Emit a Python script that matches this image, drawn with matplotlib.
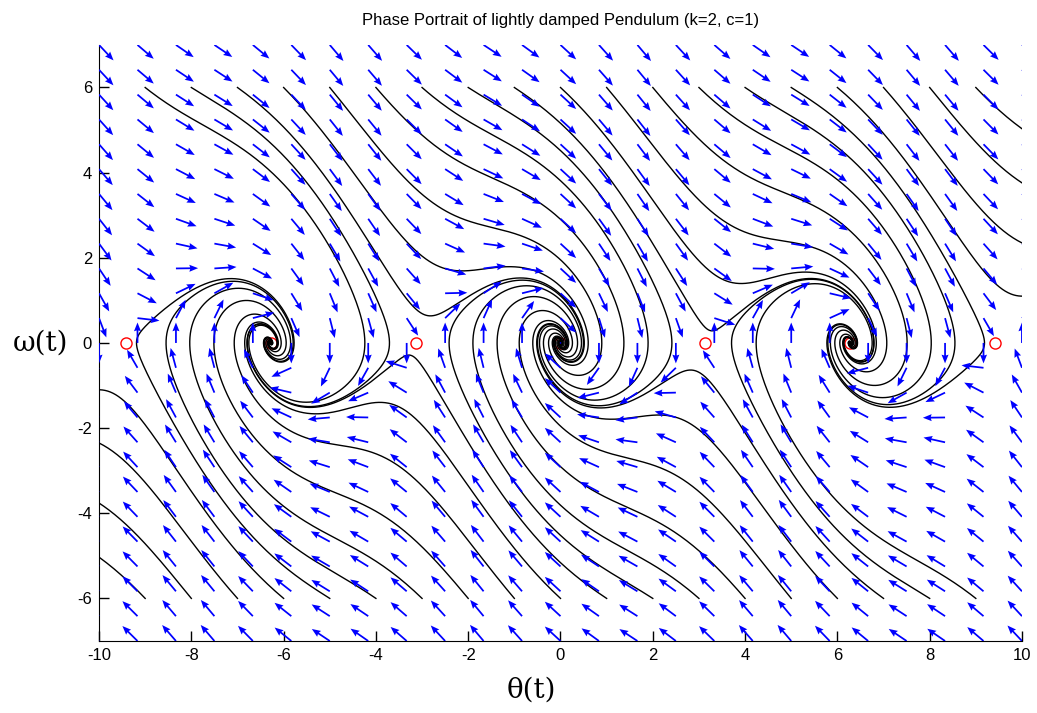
import numpy as np
import matplotlib
matplotlib.use("Agg")
import matplotlib.pyplot as plt

plt.rcParams['axes.unicode_minus'] = False

# pendulum parameters (from the title)
k = 2
c = 1

# direction field grid
theta_grid = np.linspace(-10, 10, 25)
omega_grid = np.linspace(-7, 7, 25)

# start points of the trajectories
theta_starts = list(range(-9, 10))
omega_starts = [6, -6]

# equilibria
saddles = [-3 * np.pi, -np.pi, np.pi, 3 * np.pi]
spirals = [-2 * np.pi, 0, 2 * np.pi]


def field(th, om):
    return om, -k * np.sin(th) - c * om


# integrate all trajectories together (RK4)
th0, om0 = np.meshgrid(theta_starts, omega_starts)
th = th0.ravel().astype(float)
om = om0.ravel().astype(float)
dt = 0.01
nsteps = 2500
paths_th = [th.copy()]
paths_om = [om.copy()]
for i in range(nsteps):
    k1 = field(th, om)
    k2 = field(th + dt / 2 * k1[0], om + dt / 2 * k1[1])
    k3 = field(th + dt / 2 * k2[0], om + dt / 2 * k2[1])
    k4 = field(th + dt * k3[0], om + dt * k3[1])
    th = th + dt / 6 * (k1[0] + 2 * k2[0] + 2 * k3[0] + k4[0])
    om = om + dt / 6 * (k1[1] + 2 * k2[1] + 2 * k3[1] + k4[1])
    paths_th.append(th.copy())
    paths_om.append(om.copy())
paths_th = np.array(paths_th)
paths_om = np.array(paths_om)

# normalised direction field
TH, OM = np.meshgrid(theta_grid, omega_grid)
U, V = field(TH, OM)
L = np.hypot(U, V)
L[L == 0] = 1
U = U / L
V = V / L

fig = plt.figure(figsize=(10.37, 7.13), dpi=100)
ax = fig.add_axes([0.0955, 0.101, 0.89, 0.836])

ax.plot(saddles, np.zeros(len(saddles)), 'o', color='red', mfc='none', ms=8, mew=1, zorder=1)
ax.plot(spirals, np.zeros(len(spirals)), 'o', color='red', mfc='none', ms=8, mew=1, zorder=1)

for j in range(paths_th.shape[1]):
    ax.plot(paths_th[:, j], paths_om[:, j], color='black', lw=1, zorder=2)

ax.quiver(TH, OM, U, V, color='blue', angles='xy', scale_units='xy', scale=1 / 0.48,
          pivot='tail', width=0.0019, headwidth=4, headlength=5, headaxislength=4.5, zorder=3)

ax.set_xlim(-10, 10)
ax.set_ylim(-7, 7)
ax.set_xticks(np.arange(-10, 11, 2))
ax.set_yticks(np.arange(-6, 7, 2))
ax.spines['top'].set_visible(False)
ax.spines['right'].set_visible(False)
ax.tick_params(direction='in', length=7, width=1, labelsize=12, pad=5)
for lab in ax.get_xticklabels() + ax.get_yticklabels():
    lab.set_family('Liberation Sans')

ax.set_title("Phase Portrait of lightly damped Pendulum (k=2, c=1)",
             family='Liberation Sans', fontsize=12, pad=14)
fig.text(0.039, 1 - 343 / 713, 'ω(t)', family='DejaVu Serif', fontsize=20,
         ha='center', va='center')
fig.text(531 / 1037, 1 - 690 / 713, 'θ(t)', family='DejaVu Serif', fontsize=20,
         ha='center', va='center')

fig.savefig('out.png', dpi=100)
